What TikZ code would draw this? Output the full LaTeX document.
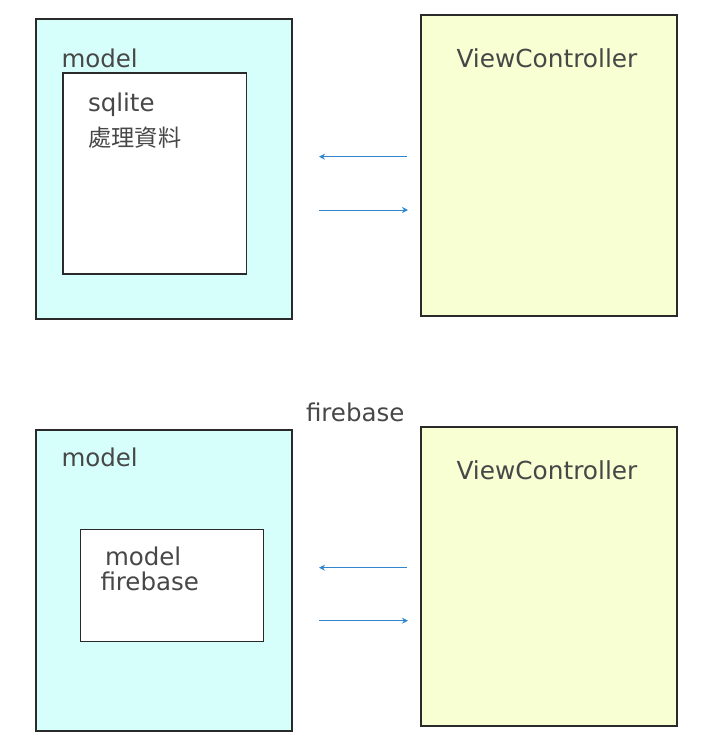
\documentclass[tikz,border=0pt]{standalone}
\usepackage{fontspec}
\setmainfont{DejaVu Sans}
\newfontfamily\cjkfont{Noto Sans CJK TC}
\usetikzlibrary{arrows.meta}
\definecolor{txtgray}{HTML}{474747}
\definecolor{modelfill}{HTML}{D6FFFB}
\definecolor{vcfill}{HTML}{F8FFD3}
\definecolor{edgecol}{HTML}{2A2A2A}
\definecolor{arrowblue}{HTML}{2F86CF}
\tikzset{
  boxbase/.style={rectangle, draw=edgecol, line width=1.1pt, anchor=north west, inner sep=0pt, outer sep=0pt},
  modelbox/.style={boxbase, fill=modelfill},
  vcbox/.style={boxbase, fill=vcfill},
  innerbox/.style={boxbase, fill=white},
  lbl/.style={anchor=base west, inner sep=0pt, outer sep=0pt, text=txtgray, font=\fontsize{24.5}{28}\selectfont},
  cjklbl/.style={anchor=base west, inner sep=0pt, outer sep=0pt, text=txtgray, font=\cjkfont\fontsize{23.2}{27}\selectfont},
  flow/.style={draw=arrowblue, line width=0.9pt, -{Stealth[length=6pt,width=6pt]}}
}
\begin{document}
\begin{tikzpicture}[x=1pt,y=-1pt]
\useasboundingbox (0,0) rectangle (708,750);
% top diagram
\node[modelbox, minimum width=256pt, minimum height=300pt] (ml1) at (36,19) {};
\node[innerbox, minimum width=183.5pt, minimum height=201pt] (mi1) at (63,73) {};
\node[vcbox, minimum width=256pt, minimum height=301pt] (vc1) at (421,15) {};
\node[lbl] (tm1) at (61.5,67.3) {model};
\node[lbl] (tsq) at (88,111.7) {sqlite};
\node[cjklbl] (tcj) at (88.5,146.8) {處理資料};
\node[lbl, font=\fontsize{24.8}{28}\selectfont] (tvc1) at (456.5,67.5) {ViewController};
\coordinate (a1s) at (407,156.7);
\coordinate (a1e) at (319,156.7);
\coordinate (a2s) at (319,210);
\coordinate (a2e) at (408,210);
\draw[flow] (a1s) -- (a1e);
\draw[flow] (a2s) -- (a2e);
% bottom diagram
\node[lbl] (tfb) at (306,421.7) {firebase};
\node[modelbox, minimum width=256pt, minimum height=301pt] (ml2) at (36,430) {};
\node[innerbox, minimum width=183pt, minimum height=112pt] (mi2) at (80.5,529.5) {};
\node[vcbox, minimum width=256pt, minimum height=299pt] (vc2) at (421,427) {};
\node[lbl] (tm2) at (61.5,466.7) {model};
\node[lbl] (tm3) at (105,565) {model};
\node[lbl] (tfb2) at (100.5,590.7) {firebase};
\node[lbl, font=\fontsize{24.8}{28}\selectfont] (tvc2) at (456.5,479.5) {ViewController};
\coordinate (b1s) at (407,567.7);
\coordinate (b1e) at (319,567.7);
\coordinate (b2s) at (319,620.7);
\coordinate (b2e) at (408,620.7);
\draw[flow] (b1s) -- (b1e);
\draw[flow] (b2s) -- (b2e);
\end{tikzpicture}
\end{document}
